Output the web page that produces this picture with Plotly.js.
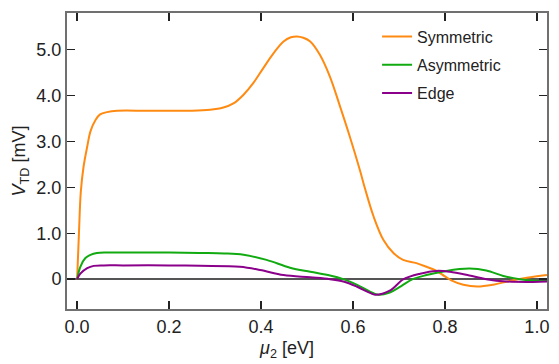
<!DOCTYPE html>
<html>
<head>
<meta charset="utf-8">
<script src="https://cdn.plot.ly/plotly-3.0.1.min.js"></script>
<style>html,body{margin:0;padding:0;background:#fff;}#chart{width:559px;height:364px;}</style>
</head>
<body>
<div id="chart"></div>
<script>
// Series names
const seriesNames = ["Symmetric", "Asymmetric", "Edge"];

// Symmetric (mu2 [eV], V_TD [mV])
const symX = [0, 0.004, 0.008, 0.014, 0.022, 0.029, 0.04, 0.05, 0.065, 0.087, 0.15, 0.2, 0.246, 0.289, 0.318, 0.34, 0.362, 0.383, 0.405, 0.427, 0.449, 0.465, 0.478, 0.492, 0.507, 0.528, 0.55, 0.572, 0.593, 0.615, 0.626, 0.645, 0.666, 0.688, 0.709, 0.738, 0.76, 0.78, 0.8, 0.815, 0.84, 0.87, 0.905, 0.94, 0.978, 1.022];
const symY = [0, 1.0, 1.9, 2.45, 2.89, 3.22, 3.47, 3.59, 3.64, 3.67, 3.67, 3.67, 3.67, 3.69, 3.74, 3.83, 4.02, 4.27, 4.60, 4.92, 5.18, 5.27, 5.29, 5.26, 5.18, 4.89, 4.41, 3.76, 3.11, 2.38, 1.98, 1.36, 0.86, 0.57, 0.42, 0.35, 0.27, 0.19, 0.06, -0.03, -0.12, -0.16, -0.12, -0.04, 0.03, 0.09];

// Asymmetric
const asymX = [0, 0.007, 0.018, 0.029, 0.043, 0.065, 0.1, 0.2, 0.267, 0.32, 0.362, 0.412, 0.463, 0.507, 0.55, 0.579, 0.608, 0.637, 0.655, 0.68, 0.705, 0.73, 0.76, 0.803, 0.853, 0.89, 0.927, 0.963, 1.006, 1.022];
const asymY = [0, 0.27, 0.46, 0.53, 0.57, 0.58, 0.58, 0.58, 0.57, 0.56, 0.53, 0.42, 0.25, 0.16, 0.08, 0.0, -0.12, -0.27, -0.34, -0.29, -0.15, 0.0, 0.09, 0.18, 0.23, 0.19, 0.07, 0.0, -0.04, -0.04];

// Edge
const edgeX = [0, 0.007, 0.022, 0.036, 0.058, 0.1, 0.2, 0.267, 0.354, 0.398, 0.449, 0.507, 0.55, 0.579, 0.608, 0.637, 0.648, 0.68, 0.71, 0.746, 0.782, 0.811, 0.853, 0.89, 0.934, 0.992, 1.022];
const edgeY = [0, 0.12, 0.24, 0.29, 0.30, 0.30, 0.30, 0.29, 0.27, 0.20, 0.09, 0.04, 0.0, -0.05, -0.16, -0.30, -0.34, -0.25, 0.0, 0.12, 0.18, 0.16, 0.08, 0.0, -0.05, -0.06, -0.05];

// Tick labels
const xTickVals = [0, 0.2, 0.4, 0.6, 0.8, 1.0];
const xTickText = ["0.0", "0.2", "0.4", "0.6", "0.8", "1.0"];
const yTickVals = [0, 1, 2, 3, 4, 5];
const yTickText = ["0", "1.0", "2.0", "3.0", "4.0", "5.0"];

const colors = ["#ff8a12", "#11aa11", "#8b008b"];
const xs = [symX, asymX, edgeX];
const ys = [symY, asymY, edgeY];

const traces = seriesNames.map((n, i) => ({
  x: xs[i], y: ys[i], name: n, type: "scatter", mode: "lines", legendgroup: "g" + i,
  line: {color: colors[i], width: 2, shape: "spline", smoothing: 1.0}
}));

const font = "Liberation Sans, Arial, Helvetica, sans-serif";
const axisCommon = {
  showline: true, linecolor: "#707070", linewidth: 2,
  mirror: "ticks", ticks: "inside", ticklen: 8, tickwidth: 1.5, tickcolor: "#222",
  showgrid: false, tickfont: {family: font, size: 18, color: "#222"},
  tickmode: "array"
};

const layout = {
  width: 559, height: 364,
  margin: {l: 67, r: 12, t: 13, b: 55},
  paper_bgcolor: "#fff", plot_bgcolor: "#fff",
  font: {family: font, color: "#222"},
  showlegend: true,
  legend: {x: 0.646, y: 0.978, xanchor: "left", yanchor: "top", tracegroupgap: 4.5,
    font: {family: font, size: 16, color: "#222"}, bgcolor: "rgba(0,0,0,0)"},
  xaxis: Object.assign({}, axisCommon, {
    range: [-0.022, 1.022], tickvals: xTickVals, ticktext: xTickText,
    zeroline: false
  }),
  yaxis: Object.assign({}, axisCommon, {
    range: [-0.65, 5.8], tickvals: yTickVals, ticktext: yTickText,
    zeroline: true, zerolinecolor: "#555", zerolinewidth: 1.5,
    title: {text: "<i>V</i><sub>TD</sub> [mV]", font: {family: font, size: 18, color: "#222"}, standoff: 6}
  }),
  annotations: [{
    text: "<i>μ</i><sub>2</sub> [eV]", xref: "paper", yref: "paper",
    x: 0.458, y: -0.0946, xanchor: "center", yanchor: "top", showarrow: false,
    borderpad: 0, font: {family: font, size: 18, color: "#222"}
  }]
};

Plotly.newPlot("chart", traces, layout, {displayModeBar: false, staticPlot: true});
</script>
</body>
</html>
